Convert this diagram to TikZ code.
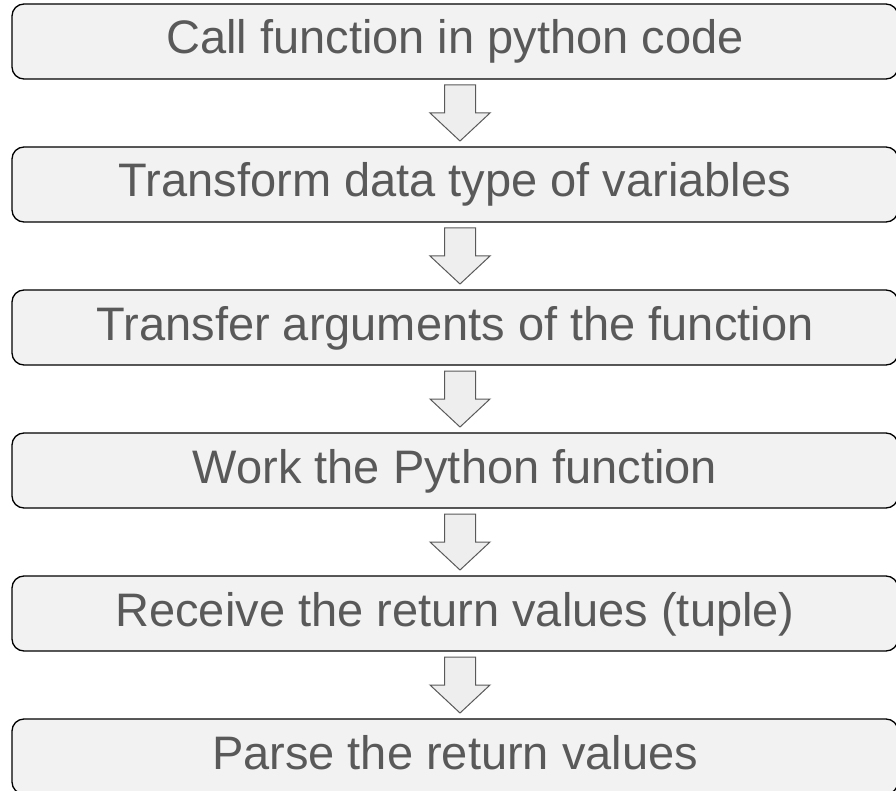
\documentclass[tikz,border=0pt]{standalone}
\usepackage{fontspec}
\setmainfont{Liberation Sans}
\usetikzlibrary{calc}
\definecolor{boxfill}{HTML}{F2F2F2}
\definecolor{txtgray}{HTML}{595959}
\definecolor{arrfill}{HTML}{EEEEEE}
\tikzset{
  stepbox/.style={draw=black, line width=1.3pt, fill=boxfill, rounded corners=12pt,
    minimum width=886pt, minimum height=75pt, inner sep=0pt, text=txtgray,
    font=\fontsize{47}{56}\selectfont, text height=35pt, text depth=10pt},
  downarrow/.style={draw=txtgray, line width=1pt, fill=arrfill, line join=miter}
}
% block arrow pointing down, centred on the given coordinate
\newcommand\blockarrow[1]{%
  \begin{scope}[shift={(#1)}]
    \draw[downarrow] (-15.5,-28) -- (15.5,-28) -- (15.5,0) -- (30,0) -- (0,28)
      -- (-30,0) -- (-15.5,0) -- cycle;
  \end{scope}}
\begin{document}
\begin{tikzpicture}[x=1pt,y=-1pt]
  \useasboundingbox (0,0) rectangle (896,791);
  \node[stepbox] (b1) at (455,41.5) {Call function in python code};
  \node[stepbox] (b2) at (455,184.5) {Transform data type of variables};
  \node[stepbox] (b3) at (455,327.5) {Transfer arguments of the function};
  \node[stepbox] (b4) at (455,470.5) {Work the Python function};
  \node[stepbox] (b5) at (455,613.5) {Receive the return values (tuple)};
  \node[stepbox] (b6) at (455,756.5) {Parse the return values};
  \foreach \a/\b [count=\i] in {b1/b2,b2/b3,b3/b4,b4/b5,b5/b6}{
    \coordinate (m\i) at ($(\a.south)!0.5!(\b.north)+(5,0)$);
    \blockarrow{m\i}
  }
\end{tikzpicture}
\end{document}
